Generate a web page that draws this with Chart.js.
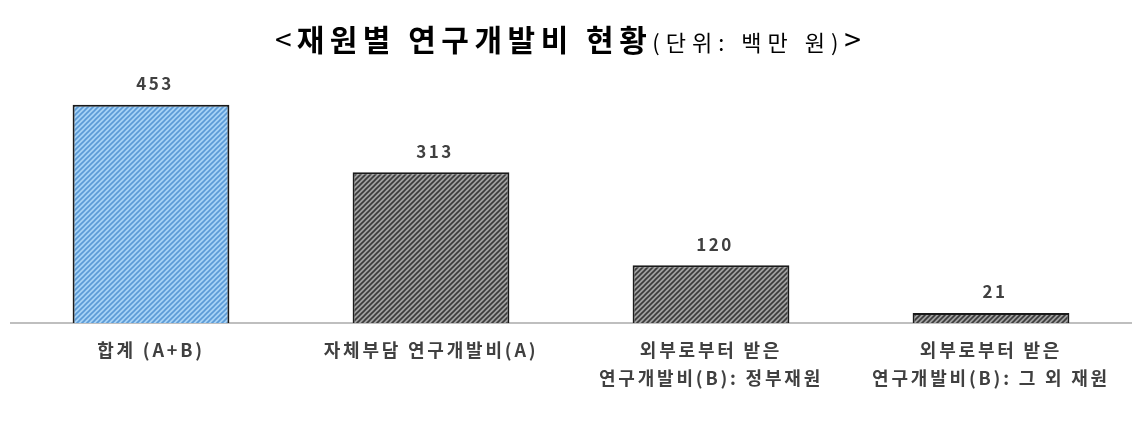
<!DOCTYPE html>
<html>
<head>
<meta charset="utf-8">
<script src="https://cdn.jsdelivr.net/npm/chart.js@4"></script>
<style>
  html, body { margin: 0; padding: 0; background: #fff; }
  #wrap { position: relative; width: 1141px; height: 431px; }
  #title {
    position: absolute; left: 0; right: 0; top: 15px; text-align: center;
    font-family: "Noto Sans CJK KR", sans-serif; color: #000;
    line-height: 46px; white-space: nowrap;
  }
  #title .main { font-size: 30px; font-weight: 700; letter-spacing: 5.5px; }
  #title .unit { font-size: 22px; font-weight: 400; letter-spacing: 6px; }
  #title .br { font-size: 30px; font-weight: 400; letter-spacing: 5px; }
</style>
</head>
<body>
<div id="wrap">
  <div id="title"><span class="br">&lt;</span><span class="main">재원별 연구개발비 현황</span><span class="unit">(단위: 백만 원)</span><span class="br">&gt;</span></div>
  <canvas id="chart" width="1141" height="431"></canvas>
</div>
<script>
// ------------------------------------------------------------
// 재원별 연구개발비 현황 - bar chart
// ------------------------------------------------------------

const categories = [
  ["합계 (A+B)"],
  ["자체부담 연구개발비(A)"],
  ["외부로부터 받은", "연구개발비(B): 정부재원"],
  ["외부로부터 받은", "연구개발비(B): 그 외 재원"]
];
const values = [453, 313, 120, 21];
const yMax = 500;

function makePattern(bg, fg) {
  const size = 5;
  const c = document.createElement("canvas");
  c.width = size; c.height = size;
  const g = c.getContext("2d");
  g.fillStyle = bg;
  g.fillRect(0, 0, size, size);
  g.strokeStyle = fg;
  g.lineWidth = 1.6;
  g.beginPath();
  g.moveTo(-1, size + 1); g.lineTo(size + 1, -1);
  g.moveTo(-1, 1); g.lineTo(1, -1);
  g.moveTo(size - 1, size + 1); g.lineTo(size + 1, size - 1);
  g.stroke();
  return document.createElement("canvas").getContext("2d").createPattern(c, "repeat");
}

const bluePattern = makePattern("#a6d2f5", "#5b9ad6");
const grayPattern = makePattern("#a0a0a0", "#3a3a3a");

// wider letter spacing for all canvas text, like the original
const spacing = {
  id: "spacing",
  beforeDraw(chart) { chart.ctx.letterSpacing = "2.8px"; }
};

const valueLabels = {
  id: "valueLabels",
  afterDatasetsDraw(chart) {
    const ctx = chart.ctx;
    const meta = chart.getDatasetMeta(0);
    ctx.save();
    ctx.letterSpacing = "2.5px";
    ctx.font = "bold 17px 'Noto Sans CJK KR', sans-serif";
    ctx.fillStyle = "#404040";
    ctx.textAlign = "center";
    ctx.textBaseline = "middle";
    meta.data.forEach((bar, i) => {
      ctx.fillText(String(values[i]), bar.x + 4, bar.y - 21);
    });
    ctx.restore();
  }
};

const ctx = document.getElementById("chart").getContext("2d");
new Chart(ctx, {
  type: "bar",
  data: {
    labels: categories,
    datasets: [{
      data: values,
      backgroundColor: [bluePattern, grayPattern, grayPattern, grayPattern],
      borderColor: "#1a1a1a",
      borderWidth: 2,
      borderSkipped: "bottom",
      categoryPercentage: 1,
      barPercentage: 0.56
    }]
  },
  options: {
    responsive: false,
    animation: false,
    devicePixelRatio: 1,
    layout: { padding: { left: 11, right: 10, top: 82, bottom: 0 } },
    plugins: {
      legend: { display: false },
      title: { display: false },
      tooltip: { enabled: false }
    },
    scales: {
      x: {
        grid: { display: false, drawTicks: false },
        border: { display: true, color: "#bfbfbf", width: 2 },
        ticks: {
          color: "#404040",
          padding: 13,
          font: { family: "'Noto Sans CJK KR', sans-serif", size: 18, weight: "bold", lineHeight: 1.55 }
        },
        afterFit(scale) { scale.height = 108; }
      },
      y: {
        display: false,
        min: 0,
        max: yMax
      }
    }
  },
  plugins: [spacing, valueLabels]
});
</script>
</body>
</html>
